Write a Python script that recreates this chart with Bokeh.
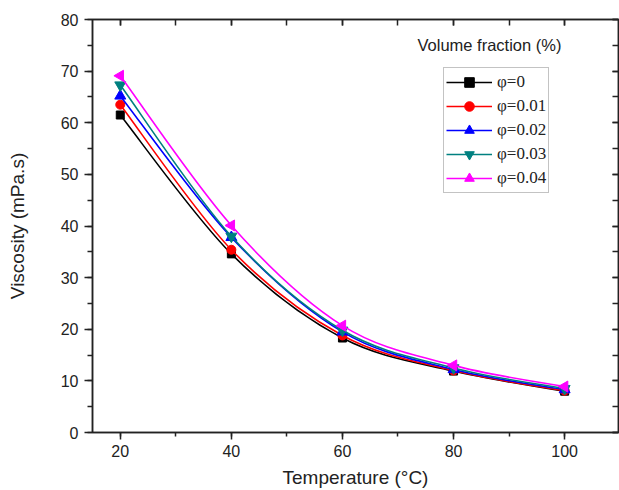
import math
from bokeh.plotting import figure
from bokeh.models import (LinearAxis, SingleIntervalTicker, Range1d, Legend,
                          LegendItem, Label, ColumnDataSource, CustomLabelingPolicy)
from bokeh.embed import file_html
from bokeh.resources import INLINE

# ---- data ----
temperature = [20, 40, 60, 80, 100]
visc_phi0 = [61.5, 34.6, 18.3, 11.9, 8.0]
visc_phi001 = [63.5, 35.4, 18.8, 12.0, 8.1]
visc_phi002 = [65.2, 37.8, 19.5, 12.2, 8.3]
visc_phi003 = [67.3, 38.0, 19.8, 12.5, 8.5]
visc_phi004 = [69.1, 40.1, 20.7, 13.0, 8.9]
series_labels = ["φ=0", "φ=0.01", "φ=0.02", "φ=0.03", "φ=0.04"]
x_label = "Temperature (°C)"
y_label = "Viscosity (mPa.s)"
legend_title = "Volume fraction (%)"

series = [visc_phi0, visc_phi001, visc_phi002, visc_phi003, visc_phi004]
colors = ["#000000", "#FF0000", "#0000FF", "#008080", "#FF00FF"]
markers = ["square", "circle", "triangle", "inverted_triangle", "triangle"]
angles = [0, 0, 0, 0, math.pi / 2]
sizes = [8, 9, 11, 11, 11]

p = figure(width=619, height=490, output_backend="svg", toolbar_location=None,
           x_range=Range1d(15, 109.7), y_range=Range1d(0, 80),
           min_border_left=92, min_border_right=1, min_border_top=19,
           min_border_bottom=58, x_axis_location=None, y_axis_location=None,
           background_fill_color="white", border_fill_color="white")
p.grid.visible = False
p.outline_line_color = "#222222"
p.outline_line_width = 1.5

FONT = "Liberation Sans"
ink = "#222222"

def style(ax):
    ax.axis_line_width = 1.5
    ax.axis_line_color = ink
    ax.major_tick_line_width = 1.5
    ax.minor_tick_line_width = 1.5
    ax.major_tick_line_color = ink
    ax.minor_tick_line_color = ink
    ax.major_label_text_font = FONT
    ax.major_label_text_font_size = "16px"
    ax.major_label_text_color = ink
    ax.axis_label_text_font = FONT
    ax.axis_label_text_font_size = "19px"
    ax.axis_label_text_font_style = "normal"
    ax.axis_label_text_color = ink

xb = LinearAxis(ticker=SingleIntervalTicker(interval=20, num_minor_ticks=2),
                axis_label=x_label)
style(xb)
xb.major_tick_out = 7
xb.major_tick_in = 0
xb.minor_tick_out = 4
xb.minor_tick_in = 0
xb.major_label_standoff = 5
xb.axis_label_standoff = 7
p.add_layout(xb, "below")

yl = LinearAxis(ticker=SingleIntervalTicker(interval=10, num_minor_ticks=2),
                axis_label=y_label)
style(yl)
yl.major_tick_out = 8
yl.major_tick_in = 0
yl.minor_tick_out = 5
yl.minor_tick_in = 0
yl.major_label_standoff = 6
yl.axis_label_standoff = 30
p.add_layout(yl, "left")

no_labels = "for (const i of indices) indices.unset(i)"

xt = LinearAxis(ticker=SingleIntervalTicker(interval=20, num_minor_ticks=2),
                major_label_policy=CustomLabelingPolicy(code=no_labels))
style(xt)
xt.major_tick_out = 0
xt.major_tick_in = 6
xt.minor_tick_out = 0
xt.minor_tick_in = 6
xt.major_label_standoff = 0
xt.major_label_text_font_size = "0px"
p.add_layout(xt, "above")

yr = LinearAxis(ticker=SingleIntervalTicker(interval=10, num_minor_ticks=2),
                major_label_policy=CustomLabelingPolicy(code=no_labels))
style(yr)
yr.major_tick_out = 0
yr.major_tick_in = 6
yr.minor_tick_out = 0
yr.minor_tick_in = 6
yr.major_label_standoff = 0
yr.major_label_text_font_size = "0px"
p.add_layout(yr, "right")

def catmull_bezier(xs, ys):
    n = len(xs)
    d = dict(x0=[], y0=[], x1=[], y1=[], cx0=[], cy0=[], cx1=[], cy1=[])
    for i in range(n - 1):
        im1 = max(i - 1, 0)
        ip2 = min(i + 2, n - 1)
        d["x0"].append(xs[i]); d["y0"].append(ys[i])
        d["x1"].append(xs[i + 1]); d["y1"].append(ys[i + 1])
        d["cx0"].append(xs[i] + (xs[i + 1] - xs[im1]) / 6.0)
        d["cy0"].append(ys[i] + (ys[i + 1] - ys[im1]) / 6.0)
        d["cx1"].append(xs[i + 1] - (xs[ip2] - xs[i]) / 6.0)
        d["cy1"].append(ys[i + 1] - (ys[ip2] - ys[i]) / 6.0)
    return d

items = []
for vals, col, mk, ang, sz, lab in zip(series, colors, markers, angles, sizes, series_labels):
    src = ColumnDataSource(catmull_bezier(temperature, vals))
    lr = p.bezier(x0="x0", y0="y0", x1="x1", y1="y1", cx0="cx0", cy0="cy0",
                  cx1="cx1", cy1="cy1", source=src, line_color=col, line_width=1.6)
    sr = p.scatter(x=temperature, y=vals, angle=ang,
                   marker=mk, size=sz, fill_color=col, line_color=col, line_width=1)
    items.append(LegendItem(label=lab, renderers=[lr, sr], index=0))

legend = Legend(items=items, location=(351, 239), orientation="vertical",
                label_text_font="Liberation Serif", label_text_font_size="17px",
                label_text_color=ink,
                glyph_width=46, glyph_height=24, label_height=24,
                label_standoff=5, spacing=0, padding=2, margin=0,
                border_line_color="#888888", border_line_width=1,
                background_fill_color="white", background_fill_alpha=1)
p.add_layout(legend, "center")

title = Label(x=325, y=388, x_units="screen", y_units="screen", text=legend_title,
              text_font=FONT, text_font_size="16.5px", text_color=ink,
              text_baseline="middle", text_align="left")
p.add_layout(title)

open("out.html", "w").write(file_html(p, INLINE))
